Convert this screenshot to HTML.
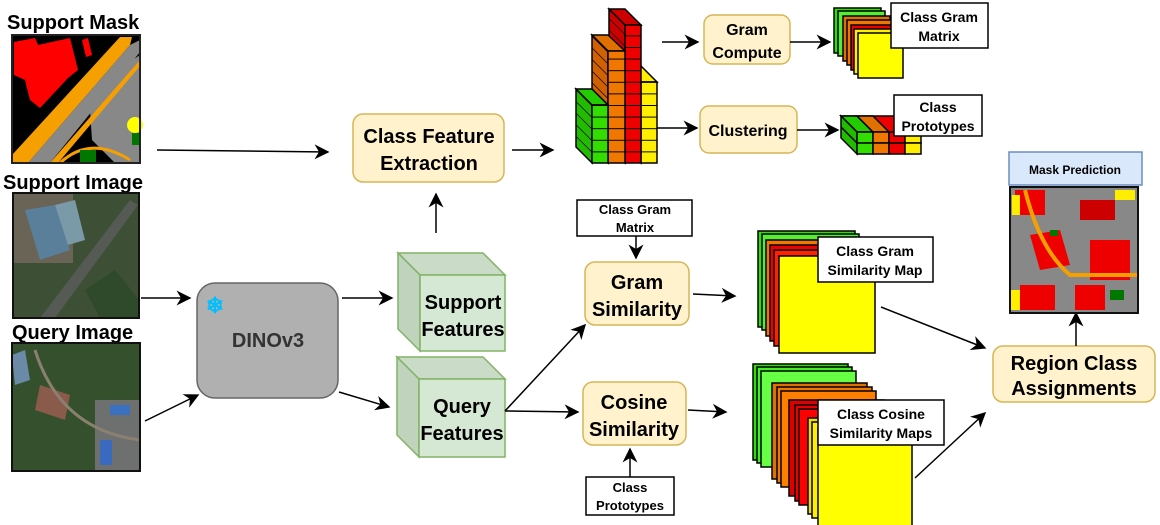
<!DOCTYPE html>
<html><head><meta charset="utf-8"><style>
html,body{margin:0;padding:0;background:#fff;width:1160px;height:525px;overflow:hidden}
svg{display:block;font-family:"Liberation Sans",sans-serif;font-weight:bold}
</style></head><body>
<svg width="1160" height="525" viewBox="0 0 1160 525" xmlns="http://www.w3.org/2000/svg">
<defs>
<marker id="a" viewBox="0 0 10 10" refX="9" refY="5" markerWidth="15" markerHeight="15" markerUnits="userSpaceOnUse" orient="auto"><path d="M0,0 L10,5 L0,10 L3,5 z" fill="#000"/></marker>
<pattern id="pg" x="0" y="163" width="20" height="11.6" patternUnits="userSpaceOnUse"><rect width="20" height="11.6" fill="#33dd00"/><line x1="0" y1="0" x2="20" y2="0" stroke="#000" stroke-width="2"/></pattern>
<pattern id="po" x="0" y="163" width="20" height="11.6" patternUnits="userSpaceOnUse"><rect width="20" height="11.6" fill="#f07800"/><line x1="0" y1="0" x2="20" y2="0" stroke="#000" stroke-width="2"/></pattern>
<pattern id="pr" x="0" y="163" width="20" height="11.6" patternUnits="userSpaceOnUse"><rect width="20" height="11.6" fill="#ee0000"/><line x1="0" y1="0" x2="20" y2="0" stroke="#000" stroke-width="2"/></pattern>
<pattern id="py" x="0" y="163" width="20" height="11.6" patternUnits="userSpaceOnUse"><rect width="20" height="11.6" fill="#ffee00"/><line x1="0" y1="0" x2="20" y2="0" stroke="#000" stroke-width="2"/></pattern>
<pattern id="sg" x="0" y="163" width="20" height="11.6" patternUnits="userSpaceOnUse" patternTransform="skewY(45)"><rect width="20" height="11.6" fill="#22bb00"/><line x1="0" y1="0" x2="20" y2="0" stroke="#000" stroke-width="2"/></pattern>
<pattern id="so" x="0" y="163" width="20" height="11.6" patternUnits="userSpaceOnUse" patternTransform="skewY(45)"><rect width="20" height="11.6" fill="#d06000"/><line x1="0" y1="0" x2="20" y2="0" stroke="#000" stroke-width="2"/></pattern>
<pattern id="sr" x="0" y="163" width="20" height="11.6" patternUnits="userSpaceOnUse" patternTransform="skewY(45)"><rect width="20" height="11.6" fill="#cc0000"/><line x1="0" y1="0" x2="20" y2="0" stroke="#000" stroke-width="2"/></pattern>
<pattern id="sy" x="0" y="163" width="20" height="11.6" patternUnits="userSpaceOnUse" patternTransform="skewY(45)"><rect width="20" height="11.6" fill="#ddcc00"/><line x1="0" y1="0" x2="20" y2="0" stroke="#000" stroke-width="2"/></pattern>
</defs>

<text x="7" y="29" font-size="20">Support Mask</text>
<text x="3" y="189" font-size="20">Support Image</text>
<text x="12" y="339" font-size="20">Query Image</text>

<!-- Support mask -->
<g>
<rect x="12" y="35" width="128" height="128" fill="#000"/>
<polygon points="14,42 35,38 38,45 70,38 78,70 68,78 40,108 30,100 25,80 14,75" fill="#f00"/>
<polygon points="82,40 88,38 92,55 86,57" fill="#f00"/>
<polygon points="125,72 140,62 140,118 130,112 120,95" fill="#f00"/>
<polygon points="95,85 140,55 140,163 115,163 92,140 90,110" fill="#888"/>
<polygon points="12,155 120,37 132,37 130,45 28,163 12,163" fill="#f5a000"/>
<polygon points="28,163 130,45 140,40 140,52 50,163" fill="#888"/>
<polygon points="50,163 140,60 140,66 58,163" fill="#f5a000"/>
<path d="M60,163 Q90,135 130,160" stroke="#f5a000" stroke-width="3" fill="none"/>
<circle cx="135" cy="125" r="8" fill="#ff0"/>
<rect x="132" y="133" width="8" height="12" fill="#070"/>
<rect x="80" y="150" width="16" height="12" fill="#070"/>
<rect x="12" y="35" width="128" height="128" fill="none" stroke="#222" stroke-width="2"/>
</g>
<!-- Support image -->
<g>
<rect x="13" y="193" width="126" height="125" fill="#3d4f35"/>
<rect x="13" y="193" width="60" height="70" fill="#6a6456"/>
<polygon points="25,210 55,205 70,250 40,260" fill="#5a7f9a"/>
<polygon points="55,205 75,200 85,240 68,245" fill="#7a9aa8"/>
<polygon points="40,318 130,200 138,205 55,318" fill="#555a55"/>
<polygon points="85,290 115,270 139,300 139,318 100,318" fill="#2e4a2a"/>
<rect x="13" y="193" width="126" height="125" fill="none" stroke="#111" stroke-width="2"/>
</g>
<!-- Query image -->
<g>
<rect x="12" y="343" width="128" height="128" fill="#34502c"/>
<rect x="95" y="400" width="45" height="71" fill="#6e7070"/>
<rect x="100" y="440" width="12" height="25" fill="#3a6ac0"/>
<rect x="110" y="405" width="20" height="10" fill="#3a70c0"/>
<polygon points="40,385 70,395 65,420 35,410" fill="#8a5a4a"/>
<polygon points="12,355 25,350 30,380 15,385" fill="#6a8aa8"/>
<path d="M35,350 Q60,430 140,440" stroke="#8a8070" stroke-width="3" fill="none"/>
<rect x="12" y="343" width="128" height="128" fill="none" stroke="#111" stroke-width="2"/>
</g>

<line x1="157" y1="150" x2="328" y2="152" stroke="#000" stroke-width="1.5" marker-end="url(#a)"/>
<line x1="141" y1="298" x2="190" y2="298" stroke="#000" stroke-width="1.5" marker-end="url(#a)"/>
<line x1="145" y1="421" x2="198" y2="395" stroke="#000" stroke-width="1.5" marker-end="url(#a)"/>

<rect x="197" y="283" width="141" height="115" rx="18" fill="#b0b0b0" stroke="#666" stroke-width="1.5"/>
<text x="215" y="313" font-size="22" fill="#00bfff" text-anchor="middle">❄</text>
<text x="268" y="347" font-size="20" fill="#333" text-anchor="middle">DINOv3</text>
<line x1="342" y1="298" x2="392" y2="298" stroke="#000" stroke-width="1.5" marker-end="url(#a)"/>
<line x1="339" y1="392" x2="389" y2="407" stroke="#000" stroke-width="1.5" marker-end="url(#a)"/>

<rect x="353" y="114" width="151" height="68" rx="10" fill="#fff2cc" stroke="#d6b656" stroke-width="1.5"/>
<text x="429" y="143" font-size="20" text-anchor="middle">Class Feature</text>
<text x="429" y="170" font-size="20" text-anchor="middle">Extraction</text>
<line x1="436" y1="233" x2="436" y2="194" stroke="#000" stroke-width="1.5" marker-end="url(#a)"/>
<line x1="512" y1="150" x2="553" y2="150" stroke="#000" stroke-width="1.5" marker-end="url(#a)"/>

<g stroke="#82b366" stroke-width="1.5">
<polygon points="398,253 483,253 505,275 420,275" fill="#cadbc8"/>
<polygon points="398,253 420,275 420,351 398,329" fill="#bfd3bd"/>
<rect x="420" y="275" width="85" height="76" fill="#d5e8d4"/>
</g>
<text x="463" y="309" font-size="20" text-anchor="middle">Support</text>
<text x="463" y="336" font-size="20" text-anchor="middle">Features</text>
<g stroke="#82b366" stroke-width="1.5">
<polygon points="397,357 483,357 505,379 419,379" fill="#cadbc8"/>
<polygon points="397,357 419,379 419,457 397,435" fill="#bfd3bd"/>
<rect x="419" y="379" width="86" height="78" fill="#d5e8d4"/>
</g>
<text x="462" y="413" font-size="20" text-anchor="middle">Query</text>
<text x="462" y="440" font-size="20" text-anchor="middle">Features</text>

<line x1="505" y1="411" x2="585" y2="325" stroke="#000" stroke-width="1.5" marker-end="url(#a)"/>
<line x1="505" y1="411" x2="578" y2="412" stroke="#000" stroke-width="1.5" marker-end="url(#a)"/>

<rect x="577" y="200" width="115" height="36" fill="#fff" stroke="#000" stroke-width="1.5"/>
<text x="635" y="214" font-size="13" text-anchor="middle">Class Gram</text>
<text x="635" y="232" font-size="13" text-anchor="middle">Matrix</text>
<line x1="636" y1="236" x2="636" y2="258" stroke="#000" stroke-width="1.5" marker-end="url(#a)"/>
<rect x="585" y="262" width="104" height="63" rx="10" fill="#fff2cc" stroke="#d6b656" stroke-width="1.5"/>
<text x="637" y="289" font-size="20" text-anchor="middle">Gram</text>
<text x="637" y="316" font-size="20" text-anchor="middle">Similarity</text>
<line x1="693" y1="294" x2="735" y2="296" stroke="#000" stroke-width="1.5" marker-end="url(#a)"/>

<rect x="583" y="382" width="103" height="63" rx="10" fill="#fff2cc" stroke="#d6b656" stroke-width="1.5"/>
<text x="634" y="409" font-size="20" text-anchor="middle">Cosine</text>
<text x="634" y="436" font-size="20" text-anchor="middle">Similarity</text>
<line x1="630" y1="477" x2="630" y2="449" stroke="#000" stroke-width="1.5" marker-end="url(#a)"/>
<rect x="586" y="477" width="88" height="38" fill="#fff" stroke="#000" stroke-width="1.5"/>
<text x="630" y="492" font-size="13" text-anchor="middle">Class</text>
<text x="630" y="510" font-size="13" text-anchor="middle">Prototypes</text>
<line x1="688" y1="410" x2="726" y2="412" stroke="#000" stroke-width="1.5" marker-end="url(#a)"/>

<g stroke="#000" stroke-width="1.5">
<rect x="758" y="231" width="97" height="96" fill="#33dd00"/>
<rect x="762" y="234" width="97" height="96" fill="#55ee33"/>
<rect x="766" y="240" width="97" height="96" fill="#f07800"/>
<rect x="770" y="245" width="97" height="96" fill="#ee0000"/>
<rect x="774" y="250" width="97" height="96" fill="#ff2200"/>
<rect x="779" y="256" width="96" height="97" fill="#ffff00"/>
</g>
<rect x="818" y="237" width="115" height="45" fill="#fff" stroke="#000" stroke-width="1.5"/>
<text x="875" y="256" font-size="14" text-anchor="middle">Class Gram</text>
<text x="875" y="275" font-size="14" text-anchor="middle">Similarity Map</text>

<g stroke="#000" stroke-width="1.5">
<rect x="753" y="364" width="95" height="96" fill="#33dd00"/>
<rect x="757" y="367" width="95" height="96" fill="#44ee22"/>
<rect x="761" y="371" width="95" height="96" fill="#66ff44"/>
<rect x="772" y="383" width="95" height="96" fill="#e07000"/>
<rect x="777" y="387" width="95" height="96" fill="#f07800"/>
<rect x="781" y="391" width="95" height="96" fill="#ff8000"/>
<rect x="789" y="400" width="95" height="96" fill="#dd0000"/>
<rect x="795" y="405" width="95" height="96" fill="#ee0000"/>
<rect x="799" y="409" width="95" height="96" fill="#ff0000"/>
<rect x="808" y="418" width="95" height="96" fill="#eedd00"/>
<rect x="812" y="422" width="95" height="96" fill="#ffee00"/>
<rect x="818" y="428" width="94" height="100" fill="#ffff00"/>
</g>
<rect x="818" y="400" width="126" height="45" fill="#fff" stroke="#000" stroke-width="1.5"/>
<text x="881" y="419" font-size="14" text-anchor="middle">Class Cosine</text>
<text x="881" y="438" font-size="14" text-anchor="middle">Similarity Maps</text>

<line x1="881" y1="307" x2="985" y2="348" stroke="#000" stroke-width="1.5" marker-end="url(#a)"/>
<line x1="915" y1="478" x2="985" y2="413" stroke="#000" stroke-width="1.5" marker-end="url(#a)"/>

<rect x="993" y="346" width="162" height="56" rx="10" fill="#fff2cc" stroke="#d6b656" stroke-width="1.5"/>
<text x="1074" y="370" font-size="20" text-anchor="middle">Region Class</text>
<text x="1074" y="395" font-size="20" text-anchor="middle">Assignments</text>
<line x1="1076" y1="346" x2="1076" y2="313" stroke="#000" stroke-width="1.5" marker-end="url(#a)"/>

<rect x="1009" y="152" width="133" height="33" fill="#dae8fc" stroke="#6c8ebf" stroke-width="1.5"/>
<text x="1075" y="174" font-size="12" text-anchor="middle">Mask Prediction</text>
<g>
<rect x="1010" y="187" width="128" height="126" fill="#888"/>
<rect x="1015" y="190" width="30" height="25" fill="#ee0000"/>
<rect x="1080" y="200" width="35" height="20" fill="#c00"/>
<polygon points="1030,235 1060,230 1070,265 1040,270" fill="#ee0000"/>
<rect x="1090" y="240" width="40" height="40" fill="#ee0000"/>
<rect x="1020" y="285" width="35" height="25" fill="#ee0000"/>
<rect x="1075" y="285" width="30" height="25" fill="#ee0000"/>
<rect x="1010" y="290" width="10" height="20" fill="#ffee00"/>
<rect x="1115" y="190" width="20" height="10" fill="#ffee00"/>
<rect x="1012" y="195" width="8" height="20" fill="#ffee00"/>
<rect x="1050" y="230" width="8" height="6" fill="#070"/>
<rect x="1110" y="290" width="14" height="10" fill="#070"/>
<path d="M1025,190 Q1040,250 1070,275 L1138,275" stroke="#f5a000" stroke-width="4" fill="none"/>
<rect x="1010" y="187" width="128" height="126" fill="none" stroke="#111" stroke-width="2"/>
</g>

<g stroke="#000" stroke-width="1.5">
<polygon points="625,66 641,82 641,163 625,147" fill="url(#sy)"/>
<polygon points="625,66 641,66 657,82 641,82" fill="#ffee00"/>
<rect x="641" y="82" width="16" height="81" fill="url(#py)"/>
<polygon points="609,9 625,25 625,163 609,147" fill="url(#sr)"/>
<polygon points="609,9 625,9 641,25 625,25" fill="#cc0000"/>
<rect x="625" y="25" width="16" height="138" fill="url(#pr)"/>
<polygon points="592,35 608,51 608,163 592,147" fill="url(#so)"/>
<polygon points="592,35 608,35 625,51 608,51" fill="#e07000"/>
<rect x="608" y="51" width="17" height="112" fill="url(#po)"/>
<polygon points="576,89 592,105 592,163 576,147" fill="url(#sg)"/>
<polygon points="576,89 592,89 608,105 592,105" fill="#22cc00"/>
<rect x="592" y="105" width="16" height="58" fill="url(#pg)"/>
</g>

<line x1="662" y1="42" x2="698" y2="42" stroke="#000" stroke-width="1.5" marker-end="url(#a)"/>
<rect x="704" y="15" width="86" height="49" rx="9" fill="#fff2cc" stroke="#d6b656" stroke-width="1.5"/>
<text x="747" y="35" font-size="16" text-anchor="middle">Gram</text>
<text x="747" y="58" font-size="16" text-anchor="middle">Compute</text>
<line x1="790" y1="42" x2="830" y2="42" stroke="#000" stroke-width="1.5" marker-end="url(#a)"/>

<line x1="657" y1="128" x2="697" y2="128" stroke="#000" stroke-width="1.5" marker-end="url(#a)"/>
<rect x="700" y="106" width="97" height="47" rx="9" fill="#fff2cc" stroke="#d6b656" stroke-width="1.5"/>
<text x="748" y="136" font-size="16" text-anchor="middle">Clustering</text>
<line x1="797" y1="130" x2="838" y2="130" stroke="#000" stroke-width="1.5" marker-end="url(#a)"/>

<g stroke="#000" stroke-width="1.5">
<rect x="834" y="8" width="47" height="45" fill="#33dd00"/>
<rect x="838" y="11" width="47" height="45" fill="#55ee33"/>
<rect x="843" y="16" width="47" height="45" fill="#e07000"/>
<rect x="847" y="20" width="47" height="45" fill="#f07800"/>
<rect x="851" y="25" width="47" height="45" fill="#ee0000"/>
<rect x="854" y="29" width="47" height="45" fill="#ffee00"/>
<rect x="858" y="33" width="45" height="45" fill="#ffff00"/>
</g>
<rect x="891" y="3" width="97" height="45" fill="#fff" stroke="#000" stroke-width="1.5"/>
<text x="939" y="22" font-size="14" text-anchor="middle">Class Gram</text>
<text x="939" y="41" font-size="14" text-anchor="middle">Matrix</text>

<g stroke="#000" stroke-width="1.5">
<polygon points="841,116 905,116 921,132 857,132" fill="#ee0000"/>
<polygon points="841,116 857,116 873,132 857,132" fill="#22cc00"/>
<polygon points="857,116 873,116 889,132 873,132" fill="#e07000"/>
<polygon points="841,116 857,132 857,154 841,138" fill="#22bb00"/>
<line x1="841" y1="127" x2="857" y2="143"/>
<rect x="857" y="132" width="16" height="11" fill="#33dd00"/>
<rect x="857" y="143" width="16" height="11" fill="#33dd00"/>
<rect x="873" y="132" width="16" height="11" fill="#f07800"/>
<rect x="873" y="143" width="16" height="11" fill="#f07800"/>
<rect x="889" y="132" width="16" height="11" fill="#ee0000"/>
<rect x="889" y="143" width="16" height="11" fill="#ee0000"/>
<rect x="905" y="132" width="16" height="11" fill="#ffee00"/>
<rect x="905" y="143" width="16" height="11" fill="#ffee00"/>
</g>
<rect x="894" y="95" width="88" height="41" fill="#fff" stroke="#000" stroke-width="1.5"/>
<text x="938" y="112" font-size="14" text-anchor="middle">Class</text>
<text x="938" y="131" font-size="14" text-anchor="middle">Prototypes</text>
</svg>
</body></html>
